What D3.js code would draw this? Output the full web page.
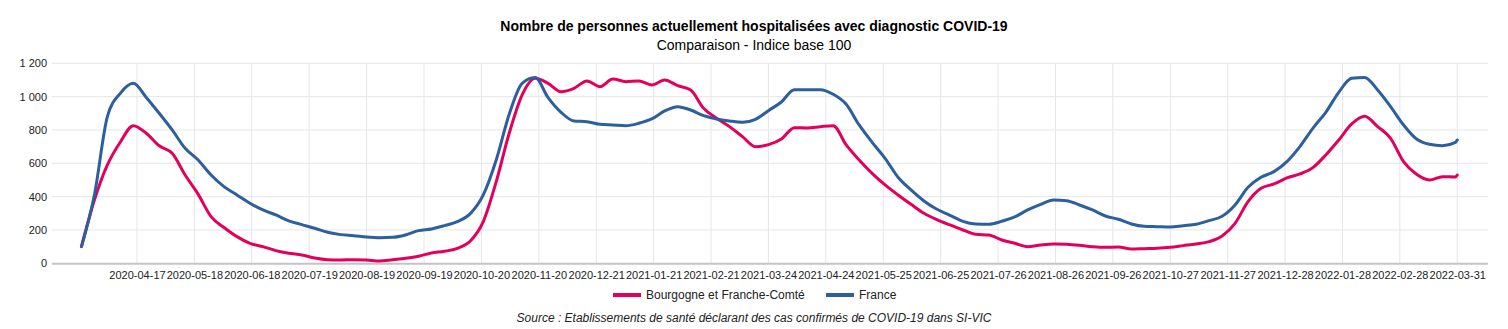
<!DOCTYPE html>
<html><head><meta charset="utf-8">
<script src="https://cdn.jsdelivr.net/npm/d3@7/dist/d3.min.js"></script>
<style>
html,body{margin:0;padding:0;background:#fff;}
svg{display:block;font-family:"Liberation Sans",Arial,Helvetica,sans-serif;}
</style></head>
<body><svg id="chart" width="1508" height="329"></svg>
<script>
// ---- data ----
const startDate = "2020-03-18";
const days = [0,7,14,21,28,35,42,49,56,63,70,77,84,91,98,105,112,119,126,133,140,147,154,161,168,175,182,189,196,203,210,217,224,231,238,245,252,259,266,273,280,287,294,301,308,315,322,329,336,343,350,357,364,371,378,385,392,399,406,413,420,427,434,441,448,455,462,469,476,483,490,497,504,511,518,525,532,539,546,553,560,567,574,581,588,595,602,609,616,623,630,637,644,651,658,665,672,679,686,693,700,707,714,721,728,735,742,743];
const bfc = [100,380,590,728,826,780,705,660,530,415,280,215,160,120,100,76,60,50,32,22,20,22,20,14,22,30,42,62,72,90,134,250,490,780,1010,1110,1080,1030,1050,1094,1060,1106,1090,1094,1070,1100,1066,1040,930,870,820,760,700,712,746,814,812,820,826,710,620,540,470,410,354,300,262,230,200,174,170,140,120,100,110,116,114,108,100,96,98,86,88,90,96,106,116,130,164,240,370,450,476,512,536,574,650,740,836,882,820,750,610,534,500,520,518,530];
const france = [100,410,880,1020,1080,995,900,800,690,620,530,460,410,360,320,290,255,232,210,186,172,166,158,154,156,170,196,206,226,250,298,410,620,894,1080,1115,994,906,854,850,834,830,826,840,866,914,940,920,886,866,854,846,864,916,968,1042,1042,1042,1014,954,830,726,630,516,440,374,324,288,252,236,234,252,278,320,354,380,376,350,320,284,264,236,222,220,218,226,234,256,282,350,456,516,550,610,700,810,906,1026,1110,1115,1040,940,830,746,714,706,726,740];
const seriesNames = ["Bourgogne et Franche-Comté","France"];
const xTickLabels = ["2020-04-17","2020-05-18","2020-06-18","2020-07-19","2020-08-19","2020-09-19","2020-10-20","2020-11-20","2020-12-21","2021-01-21","2021-02-21","2021-03-24","2021-04-24","2021-05-25","2021-06-25","2021-07-26","2021-08-26","2021-09-26","2021-10-27","2021-11-27","2021-12-28","2022-01-28","2022-02-28","2022-03-31"];
const yTicks = [0,200,400,600,800,1000,1200];
const titleText = "Nombre de personnes actuellement hospitalisées avec diagnostic COVID-19";
const subtitleText = "Comparaison - Indice base 100";
const sourceText = "Source : Etablissements de santé déclarant des cas confirmés de COVID-19 dans SI-VIC";

// ---- chart ----
const colors = ["#e3005b","#2c5f9e"];
const svg = d3.select("#chart");
const W = 1508;
const plot = {left:52, right:1488, top:63.3, bottom:263.3};
const parse = d3.utcParse("%Y-%m-%d");
const t0 = parse(startDate);
const dayDate = d => d3.utcDay.offset(t0, d);
const x = d3.scaleUtc()
  .domain([new Date(t0.getTime() - 15.9*864e5), new Date(t0.getTime() + 759.6*864e5)])
  .range([plot.left, plot.right]);
const y = d3.scaleLinear().domain([0,1200]).range([plot.bottom, plot.top]);
const fr = d3.formatLocale({decimal:",", thousands:"\u00a0", grouping:[3], currency:["","€"]});
const fmt = fr.format(",d");

// horizontal grid
svg.append("g").selectAll("line").data(yTicks.filter(v=>v>0)).join("line")
  .attr("x1",plot.left).attr("x2",plot.right)
  .attr("y1",d=>y(d)).attr("y2",d=>y(d))
  .attr("stroke","#e6e6e6").attr("stroke-width",1);
// vertical grid
const tickDates = xTickLabels.map(parse);
svg.append("g").selectAll("line").data(tickDates).join("line")
  .attr("x1",d=>x(d)).attr("x2",d=>x(d))
  .attr("y1",plot.top).attr("y2",plot.bottom)
  .attr("stroke","#e6e6e6").attr("stroke-width",1);

// y axis labels
const yAxis = d3.axisLeft(y).tickValues(yTicks).tickFormat(fmt).tickSize(0).tickPadding(0);
const ya = svg.append("g").attr("transform",`translate(${plot.left-5},0)`).call(yAxis);
ya.select(".domain").remove();
ya.selectAll("text").attr("font-size",11).attr("fill","#222").attr("font-family","Liberation Sans, Arial, sans-serif");

// x axis
const xAxis = d3.axisBottom(x).tickValues(tickDates).tickFormat(d3.utcFormat("%Y-%m-%d")).tickSize(0).tickPadding(8);
const xa = svg.append("g").attr("transform",`translate(0,${plot.bottom})`).call(xAxis);
xa.select(".domain").remove();
xa.selectAll("text").attr("font-size",11).attr("fill","#222").attr("font-family","Liberation Sans, Arial, sans-serif");
svg.append("line").attr("x1",plot.left).attr("x2",plot.right)
  .attr("y1",plot.bottom+0.5).attr("y2",plot.bottom+0.5)
  .attr("stroke","#c4c4c4").attr("stroke-width",2);

// lines
const line = d3.line().x((d,i)=>x(dayDate(days[i]))).y(d=>y(d)).curve(d3.curveMonotoneX);
[bfc, france].forEach((s,k)=>{
  svg.append("path").datum(s).attr("d",line)
    .attr("fill","none").attr("stroke",colors[k]).attr("stroke-width",3)
    .attr("stroke-linejoin","round").attr("stroke-linecap","round");
});

// title
svg.append("text").attr("x",W/2).attr("y",31).attr("text-anchor","middle")
  .attr("font-size",14).attr("font-weight","bold").attr("fill","#000").text(titleText);
svg.append("text").attr("x",W/2).attr("y",50).attr("text-anchor","middle")
  .attr("font-size",14).attr("fill","#000").text(subtitleText);

// legend
const lg = svg.append("g");
const items = [{name:seriesNames[0], c:colors[0], x:613},{name:seriesNames[1], c:colors[1], x:826}];
items.forEach(it=>{
  lg.append("line").attr("x1",it.x).attr("x2",it.x+28).attr("y1",295).attr("y2",295)
    .attr("stroke",it.c).attr("stroke-width",4);
  lg.append("text").attr("x",it.x+33).attr("y",299).attr("font-size",12).attr("fill","#222").text(it.name);
});

// source
svg.append("text").attr("x",W/2).attr("y",322).attr("text-anchor","middle")
  .attr("font-size",12).attr("font-style","italic").attr("fill","#222").text(sourceText);
</script></body></html>
